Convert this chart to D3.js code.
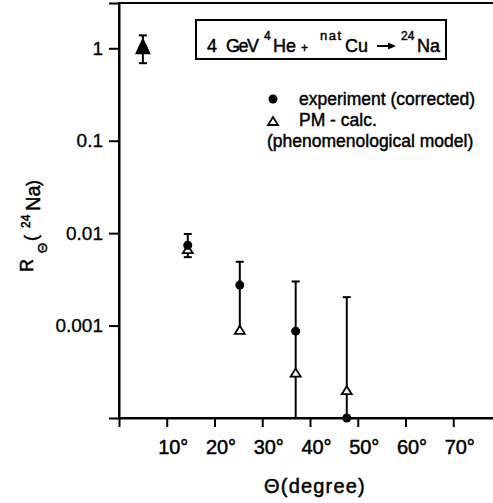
<!DOCTYPE html>
<html>
<head>
<meta charset="utf-8">
<script src="https://cdn.jsdelivr.net/npm/d3@7"></script>
<style>
  html, body { margin: 0; padding: 0; background: #fff; }
  svg { display: block; }
  text { font-family: "Liberation Sans", Arial, sans-serif; fill: #000; }
</style>
</head>
<body>
<svg id="chart" width="493" height="503"></svg>
<script>
// ---- data ----
const angles      = [5, 14.4, 25.3, 37.0, 47.7];          // Θ (degree)
const expValues   = [1, 0.0074, 0.00274, 0.00087, 0.0001]; // experiment (corrected)
const calcValues  = [1, 0.0067, 0.00090, 0.00031, 0.0002]; // PM - calc.
const errUpper    = [1.38, 0.0098, 0.0049, 0.0030, 0.00203];
const errLower    = [0.69, 0.0055, 0.00090, 0.0001, 0.0001];
const xTicks      = [10, 20, 30, 40, 50, 60, 70];
const yTicks      = [1, 0.1, 0.01, 0.001];
const yTickLabels = ["1", "0.1", "0.01", "0.001"];
const legendLabels = ["experiment (corrected)", "PM - calc.", "(phenomenological model)"];

(function () {
const svg = d3.select("#chart");
const mLeft = 119, mRight = 501, mTop = 3, mBottom = 418;

const x = d3.scaleLinear().domain([0, 80]).range([mLeft, mRight]);
const y = d3.scaleLog().domain([1e-4, 3.09]).range([mBottom, mTop]);

// frame (extends past the right edge as in the reference)
svg.append("rect")
  .attr("x", mLeft).attr("y", mTop)
  .attr("width", mRight - mLeft).attr("height", mBottom - mTop)
  .attr("fill", "none").attr("stroke", "#000").attr("stroke-width", 2);

// y axis
const yAxis = svg.append("g")
  .attr("transform", `translate(${mLeft},0)`)
  .call(d3.axisLeft(y).tickValues(yTicks).tickSize(10).tickPadding(6)
        .tickFormat((d, i) => yTickLabels[i]));
yAxis.select(".domain").attr("stroke-width", 2);
yAxis.selectAll(".tick line").attr("stroke-width", 2);
yAxis.selectAll(".tick text")
  .attr("font-size", 19).attr("font-family", "DejaVu Sans, sans-serif")
  .attr("stroke", "#000").attr("stroke-width", 0.3);

// x axis
const xAxis = svg.append("g")
  .attr("transform", `translate(0,${mBottom})`)
  .call(d3.axisBottom(x).tickValues(xTicks).tickSize(9).tickPadding(13)
        .tickFormat(d => d + "°"));
xAxis.select(".domain").attr("stroke-width", 2);
xAxis.selectAll(".tick line").attr("stroke-width", 2);
xAxis.selectAll(".tick text")
  .attr("font-size", 20).attr("font-family", "Liberation Sans, Arial, sans-serif")
  .attr("dx", 6)
  .attr("stroke", "#000").attr("stroke-width", 0.5);

// x axis title
svg.append("text")
  .attr("x", 315).attr("y", 493)
  .attr("text-anchor", "middle")
  .attr("font-size", 20).attr("letter-spacing", 1.2)
  .attr("stroke", "#000").attr("stroke-width", 0.5)
  .text("Θ(degree)");

// y axis title (rotated, pieces placed individually)
const yt = svg.append("g").attr("transform", "rotate(-90)")
  .attr("stroke", "#000").attr("stroke-width", 0.5);
const yParts = [
  {t: "R",  Y: 272, X: 33, s: 18},
  {t: "Θ",  Y: 253, X: 47, s: 13},
  {t: "(",  Y: 241, X: 37, s: 18},
  {t: "24", Y: 228, X: 30, s: 12},
  {t: "Na", Y: 211, X: 40, s: 20},
  {t: ")",  Y: 186, X: 39, s: 18}
];
yt.selectAll("text").data(yParts).join("text")
  .attr("x", d => -d.Y).attr("y", d => d.X)
  .attr("font-size", d => d.s)
  .text(d => d.t);

// title box
svg.append("rect")
  .attr("x", 196).attr("y", 20).attr("width", 250).attr("height", 39)
  .attr("fill", "none").attr("stroke", "#000").attr("stroke-width", 2);
const tg = svg.append("g").attr("stroke", "#000").attr("stroke-width", 0.45);
const titleParts = [
  {t: "4",   x: 207, y: 52, s: 18, ls: 0},
  {t: "GeV", x: 226, y: 52, s: 18, ls: -1.5},
  {t: "4",   x: 264, y: 40, s: 12, ls: 0},
  {t: "He",  x: 273, y: 52, s: 18, ls: 0},
  {t: "+",   x: 301, y: 52, s: 12, ls: 0},
  {t: "nat", x: 320, y: 40, s: 13, ls: 1.5},
  {t: "Cu",  x: 345, y: 52, s: 18, ls: 0},
  {t: "24",  x: 401, y: 40, s: 12, ls: 0},
  {t: "Na",  x: 417, y: 52, s: 18, ls: 0}
];
tg.selectAll("text").data(titleParts).join("text")
  .attr("x", d => d.x).attr("y", d => d.y).attr("font-size", d => d.s)
  .attr("letter-spacing", d => d.ls)
  .text(d => d.t);
// arrow
svg.append("line").attr("x1", 377).attr("x2", 390).attr("y1", 46).attr("y2", 46)
  .attr("stroke", "#000").attr("stroke-width", 2);
svg.append("path").attr("d", "M388,42.5 L396,46 L388,49.5 Z").attr("fill", "#000");

// legend
const triPath = (cx, cy, w, h) =>
  `M${cx - w / 2},${cy + h / 2} L${cx + w / 2},${cy + h / 2} L${cx},${cy - h / 2} Z`;
svg.append("circle").attr("cx", 273).attr("cy", 99).attr("r", 4.5).attr("fill", "#000");
svg.append("path").attr("d", triPath(273, 121, 10, 8))
  .attr("fill", "#fff").attr("stroke", "#000").attr("stroke-width", 1.8);
const lg = svg.append("g").attr("stroke", "#000").attr("stroke-width", 0.45);
lg.append("text").attr("x", 299).attr("y", 104.5).attr("font-size", 17.5).text(legendLabels[0]);
lg.append("text").attr("x", 299).attr("y", 126).attr("font-size", 17.5).text(legendLabels[1]);
lg.append("text").attr("x", 267).attr("y", 147).attr("font-size", 17.5).text(legendLabels[2]);

// data points
const pts = angles.map((a, i) => ({
  a, e: expValues[i], c: calcValues[i], hi: errUpper[i], lo: errLower[i]
}));
const yMin = y.domain()[0];
const capW = 4;
const same = d => Math.abs(Math.log10(d.e / d.c)) < 0.01;

const eb = svg.append("g").attr("stroke", "#000").attr("stroke-width", 2);
eb.selectAll("line.bar").data(pts).join("line").attr("class", "bar")
  .attr("x1", d => x(d.a)).attr("x2", d => x(d.a))
  .attr("y1", d => y(d.hi)).attr("y2", d => y(Math.max(d.lo, yMin)));
eb.selectAll("line.capHi").data(pts).join("line").attr("class", "capHi")
  .attr("x1", d => x(d.a) - capW).attr("x2", d => x(d.a) + capW)
  .attr("y1", d => y(d.hi)).attr("y2", d => y(d.hi));
eb.selectAll("line.capLo").data(pts.filter(d => d.lo > yMin && d.lo < d.c * 0.95))
  .join("line").attr("class", "capLo")
  .attr("x1", d => x(d.a) - capW).attr("x2", d => x(d.a) + capW)
  .attr("y1", d => y(d.lo)).attr("y2", d => y(d.lo));

// experimental points behind when coinciding
svg.append("g").selectAll("circle").data(pts.filter(same))
  .join("circle")
  .attr("cx", d => x(d.a)).attr("cy", d => y(d.e)).attr("r", 4.5).attr("fill", "#000");

// calc triangles
svg.append("g").selectAll("path").data(pts).join("path")
  .attr("d", d => same(d) ? triPath(x(d.a), y(d.c) - 2, 13, 14) : triPath(x(d.a), y(d.c), 10, 8))
  .attr("fill", d => same(d) ? "#000" : "#fff")
  .attr("stroke", "#000").attr("stroke-width", 1.8);

// experiment circles
svg.append("g").selectAll("circle").data(pts.filter(d => !same(d)))
  .join("circle")
  .attr("cx", d => x(d.a)).attr("cy", d => y(d.e)).attr("r", 4.5).attr("fill", "#000");
})();
</script>
</body>
</html>
